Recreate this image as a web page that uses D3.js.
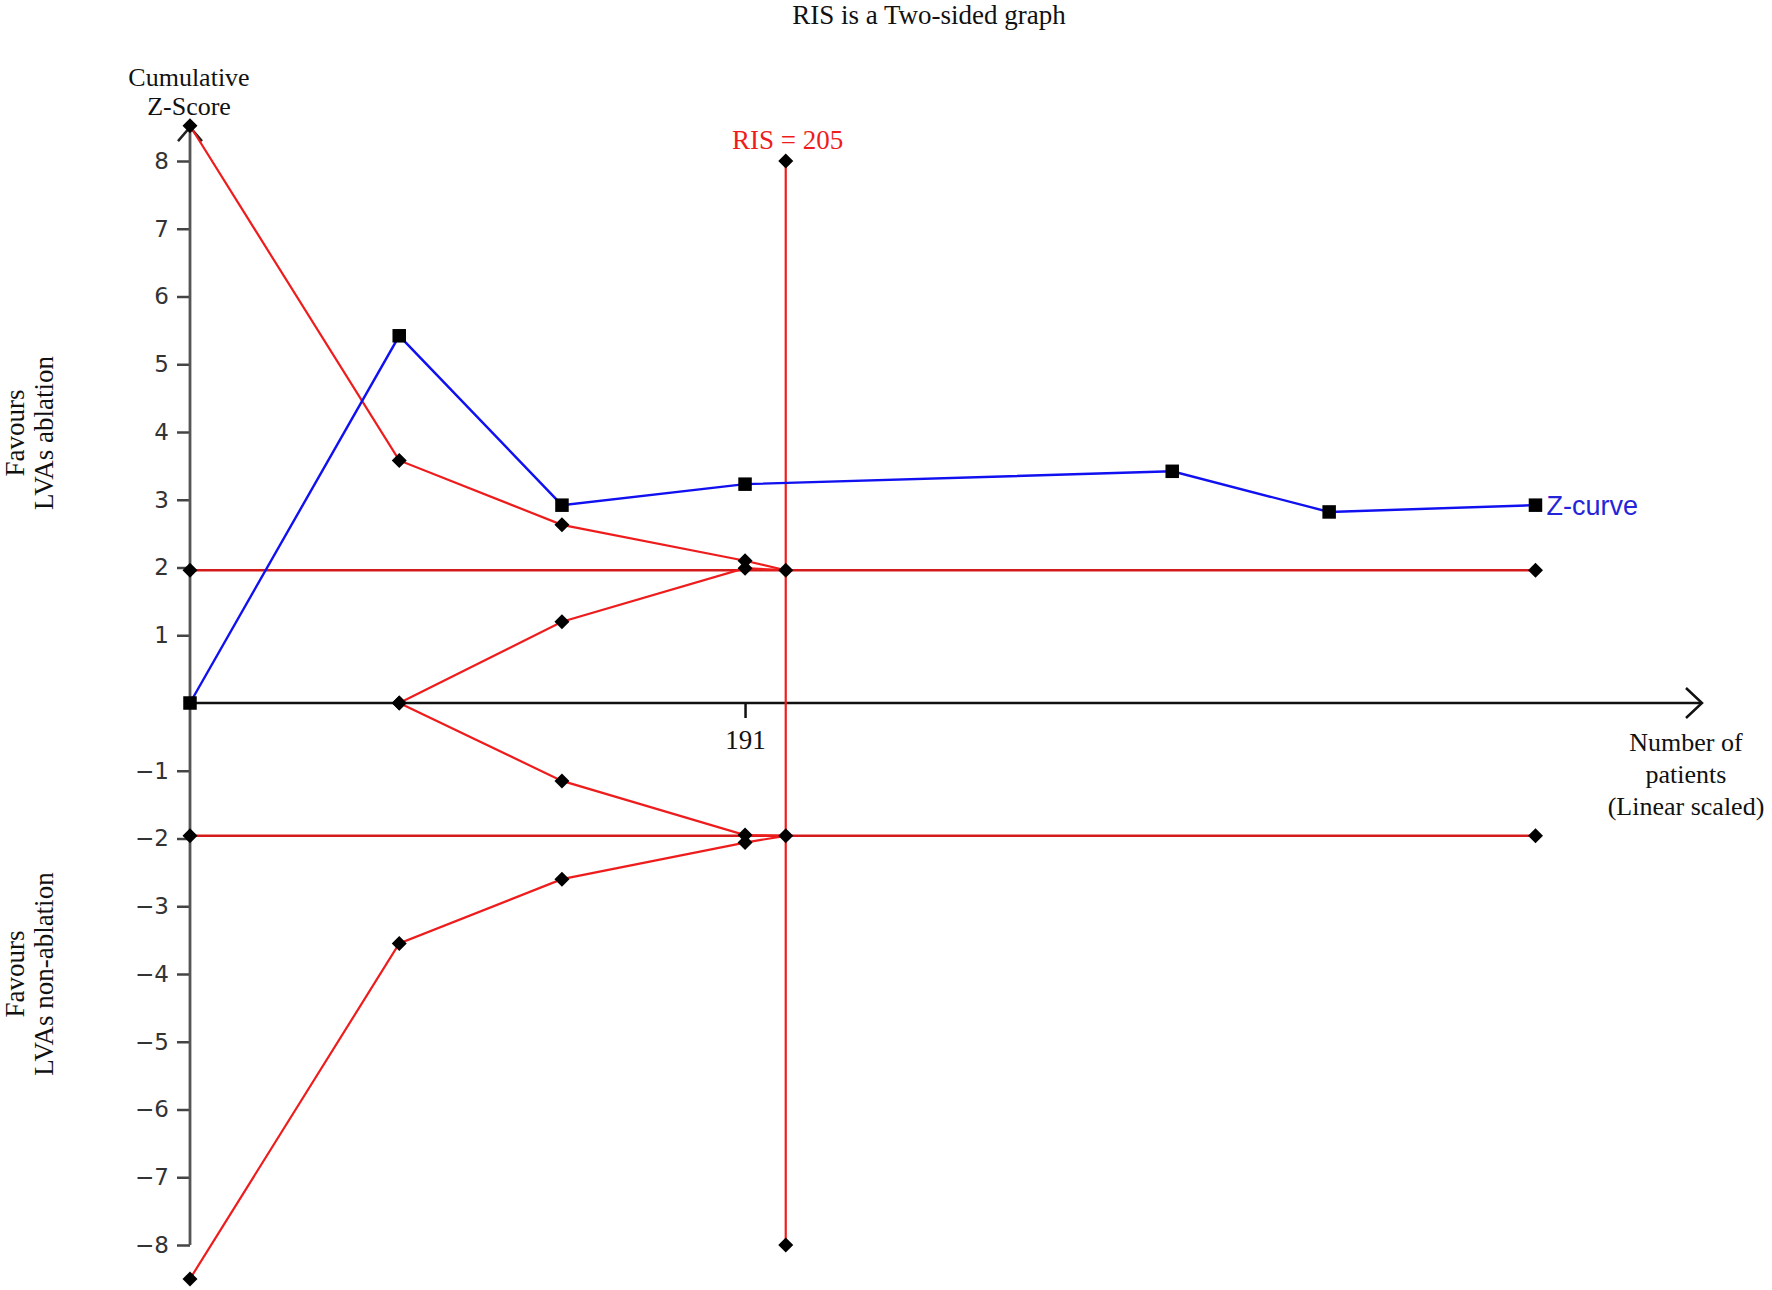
<!DOCTYPE html>
<html>
<head>
<meta charset="utf-8">
<script src="https://cdn.jsdelivr.net/npm/d3@7"></script>
<style>
  html, body { margin: 0; padding: 0; background: #fff; }
  svg { display: block; }
  .serif { font-family: "Liberation Serif", "Times New Roman", serif; }
</style>
</head>
<body>
<svg id="chart" width="1772" height="1290"></svg>
<script>
// ---- Data ----
const zPatients = [0, 72, 128, 191, 338, 392, 463];
const zScores   = [0, 5.42, 2.92, 3.23, 3.42, 2.82, 2.92];

const boundPatients = [0, 72, 128, 191, 205];
const upperBound    = [8.52, 3.58, 2.63, 2.10, 1.96];
const lowerBound    = [-8.50, -3.55, -2.60, -2.06, -1.96];

const futPatients    = [72, 128, 191, 205];
const upperFutility  = [0, 1.20, 1.99, 1.96];
const lowerFutility  = [0, -1.15, -1.95, -1.96];

const conventional = 1.96;
const convPatients = [0, 205, 463];
const risValue = 205;
const risRange = [-8, 8];

const yTicks = [-8, -7, -6, -5, -4, -3, -2, -1, 1, 2, 3, 4, 5, 6, 7, 8];
const xTicks = [191];

// ---- Drawing ----
const svg = d3.select("#chart");
const x = d3.scaleLinear().domain([0, 191]).range([190, 190 + 191 * 2.906]);
const y = d3.scaleLinear().domain([-8, 8]).range([1245, 161]);

const RED = "#ee1c1c";
const HRED = "#d41a1a";
const BLUE = "#1010f0";

// Y axis
const yAxis = svg.append("g").attr("transform", `translate(${x(0)},0)`)
  .call(d3.axisLeft(y).tickValues(yTicks).tickSize(13).tickPadding(8).tickFormat(d3.format("")));
yAxis.select(".domain").remove();
yAxis.selectAll(".tick line").attr("stroke", "#444").attr("stroke-width", 2.5);
yAxis.selectAll(".tick text").attr("fill", "#333")
  .style("font-family", "'DejaVu Sans', Verdana, sans-serif").style("font-size", "23px");
svg.append("line").attr("x1", x(0)).attr("x2", x(0)).attr("y1", y(8.5)).attr("y2", y(-8))
  .attr("stroke", "#555").attr("stroke-width", 2.8);
svg.append("path")
  .attr("d", `M${x(0) - 12},${y(8.5) + 14} L${x(0)},${y(8.5)} L${x(0) + 12},${y(8.5) + 14}`)
  .attr("fill", "none").attr("stroke", "#222").attr("stroke-width", 2.5);

// X axis
const x0 = y(0);
const xEnd = 1702;
svg.append("line").attr("x1", x(0)).attr("x2", xEnd).attr("y1", x0).attr("y2", x0)
  .attr("stroke", "#111").attr("stroke-width", 2.5);
svg.append("path")
  .attr("d", `M${xEnd - 16},${x0 - 15} L${xEnd},${x0} L${xEnd - 16},${x0 + 15}`)
  .attr("fill", "none").attr("stroke", "#111").attr("stroke-width", 2.5);
const xAxis = svg.append("g").attr("transform", `translate(0,${x0})`)
  .call(d3.axisBottom(x).tickValues(xTicks).tickSize(15).tickPadding(12).tickFormat(d3.format("d")));
xAxis.select(".domain").remove();
xAxis.selectAll(".tick line").attr("stroke", "#111").attr("stroke-width", 2.5);
xAxis.selectAll(".tick text").attr("fill", "#111").attr("class", "serif").style("font-size", "27px");

const line = d3.line().x(d => x(d[0])).y(d => y(d[1]));

// Conventional boundaries
[conventional, -conventional].forEach(c => {
  svg.append("path").datum([[0, c], [d3.max(convPatients), c]]).attr("d", line)
    .attr("fill", "none").attr("stroke", HRED).attr("stroke-width", 2.4);
});

// RIS line
svg.append("path").datum([[risValue, risRange[0]], [risValue, risRange[1]]]).attr("d", line)
  .attr("fill", "none").attr("stroke", RED).attr("stroke-width", 2.2);

// Monitoring and futility boundaries
const pairs = (xs, ys) => xs.map((p, i) => [p, ys[i]]);
[pairs(boundPatients, upperBound), pairs(boundPatients, lowerBound),
 pairs(futPatients, upperFutility), pairs(futPatients, lowerFutility)].forEach(pts => {
  svg.append("path").datum(pts).attr("d", line)
    .attr("fill", "none").attr("stroke", RED).attr("stroke-width", 2.2);
});

// Z-curve
const zPts = pairs(zPatients, zScores);
svg.append("path").datum(zPts).attr("d", line)
  .attr("fill", "none").attr("stroke", BLUE).attr("stroke-width", 2.4);

// Diamond markers
const diamondPts = []
  .concat(pairs(boundPatients.slice(0, 4), upperBound.slice(0, 4)))
  .concat(pairs(boundPatients.slice(0, 4), lowerBound.slice(0, 4)))
  .concat(pairs(futPatients.slice(0, 3), upperFutility.slice(0, 3)))
  .concat(pairs(futPatients.slice(0, 3), lowerFutility.slice(0, 3)))
  .concat(convPatients.map(p => [p, conventional]))
  .concat(convPatients.map(p => [p, -conventional]))
  .concat(risRange.map(v => [risValue, v]));
const dsize = 7.5;
svg.append("g").selectAll("path").data(diamondPts).join("path")
  .attr("d", d => `M${x(d[0])},${y(d[1]) - dsize} L${x(d[0]) + dsize},${y(d[1])} L${x(d[0])},${y(d[1]) + dsize} L${x(d[0]) - dsize},${y(d[1])} Z`)
  .attr("fill", "#000");

// Square markers
const ssize = 13.5;
svg.append("g").selectAll("rect").data(zPts).join("rect")
  .attr("x", d => x(d[0]) - ssize / 2).attr("y", d => y(d[1]) - ssize / 2)
  .attr("width", ssize).attr("height", ssize).attr("fill", "#000");

// Texts
svg.append("text").attr("class", "serif").attr("x", 929).attr("y", 24)
  .attr("text-anchor", "middle").style("font-size", "27px").attr("fill", "#111")
  .text("RIS is a Two-sided graph");

svg.append("text").attr("class", "serif").attr("x", 189).attr("y", 86)
  .attr("text-anchor", "middle").style("font-size", "26px").attr("fill", "#111").text("Cumulative");
svg.append("text").attr("class", "serif").attr("x", 189).attr("y", 115)
  .attr("text-anchor", "middle").style("font-size", "26px").attr("fill", "#111").text("Z-Score");

svg.append("text").attr("class", "serif").attr("x", x(risValue) + 2).attr("y", 149)
  .attr("text-anchor", "middle").style("font-size", "27px").attr("fill", RED).text("RIS = 205");

svg.append("text").attr("x", x(d3.max(zPatients)) + 11).attr("y", y(zScores[zScores.length - 1]) + 10)
  .style("font-family", "'Liberation Sans', Arial, sans-serif").style("font-size", "27px")
  .attr("fill", "#2424d8").text("Z-curve");

["Number of", "patients", "(Linear scaled)"].forEach((t, i) => {
  svg.append("text").attr("class", "serif").attr("x", 1686).attr("y", 751 + i * 32)
    .attr("text-anchor", "middle").style("font-size", "26px").attr("fill", "#111").text(t);
});

function sideLabel(cy, lines) {
  lines.forEach((t, i) => {
    svg.append("text").attr("class", "serif")
      .attr("transform", `translate(${24 + i * 29},${cy}) rotate(-90)`)
      .attr("text-anchor", "middle").style("font-size", "27px").attr("fill", "#111").text(t);
  });
}
sideLabel(433, ["Favours", "LVAs ablation"]);
sideLabel(974, ["Favours", "LVAs non-ablation"]);
</script>
</body>
</html>
